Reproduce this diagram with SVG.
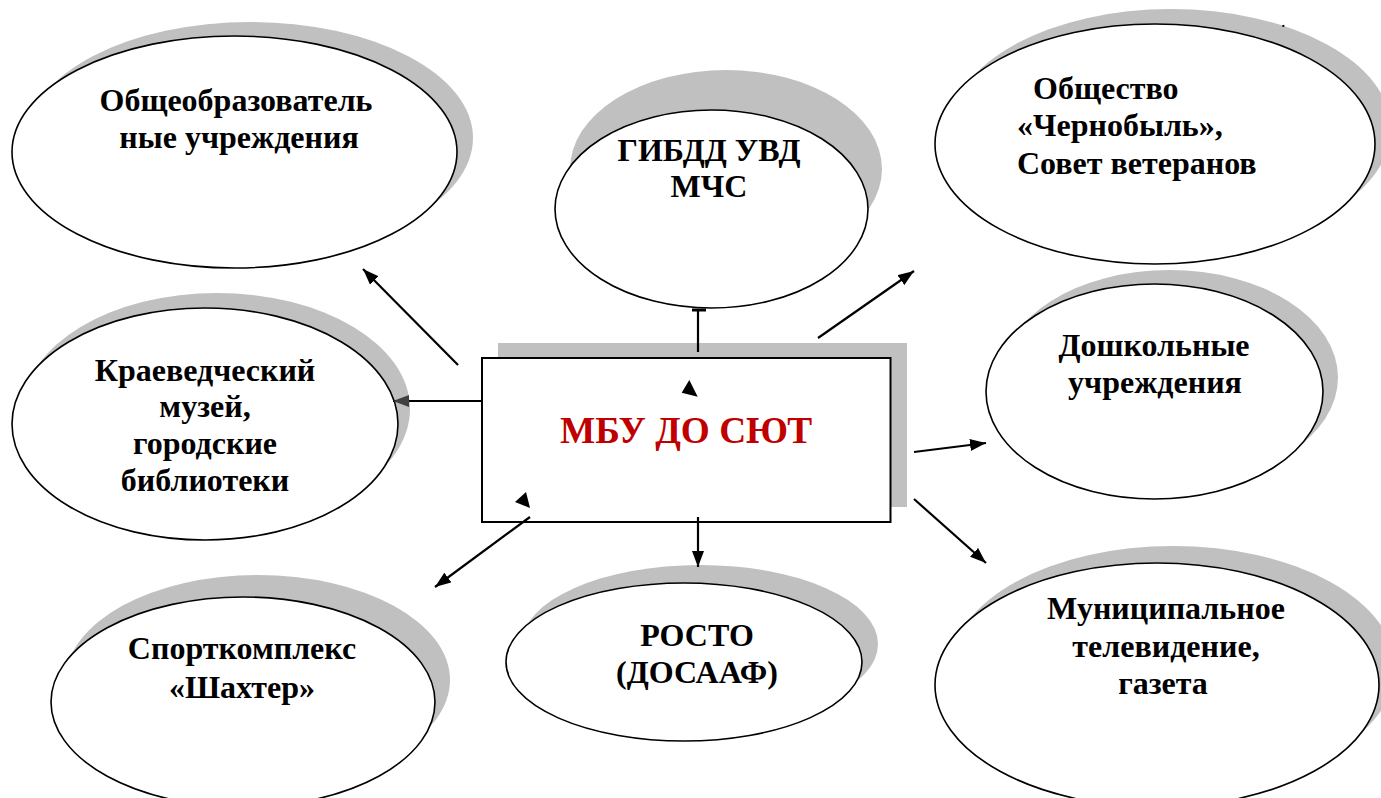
<svg xmlns="http://www.w3.org/2000/svg" width="1381" height="798" viewBox="0 0 1381 798" font-family="Liberation Serif, DejaVu Serif, serif">
<style>
.sh{fill:#c0c0c0;stroke:none}
.el{fill:#fff;stroke:#000;stroke-width:1.6}
.t{font-weight:bold;font-size:32px;fill:#000;text-anchor:middle}
.ts{text-anchor:start}
.red{font-weight:bold;font-size:37.3px;fill:#c00000;text-anchor:middle}
.c{stroke:#000;stroke-width:2.2;fill:none}
</style>
<defs>
<marker id="ah" viewBox="0 0 16 12" refX="16" refY="6" markerWidth="16" markerHeight="12" markerUnits="userSpaceOnUse" orient="auto">
<path d="M0,0 L16,6 L0,12 Z" fill="#000"/>
</marker>
<marker id="ahg" viewBox="0 0 16 12" refX="16" refY="6" markerWidth="16" markerHeight="12" markerUnits="userSpaceOnUse" orient="auto">
<path d="M0,0 L16,6 L0,12 Z" fill="#404040"/>
</marker>
</defs>
<rect width="1381" height="798" fill="#fff"/>

<g id="n-obshcheobr">
<ellipse class="sh" cx="250.5" cy="138" rx="222.5" ry="116"/>
<ellipse class="el" cx="234.5" cy="152" rx="222.5" ry="116"/>
<text class="t" x="236" y="111">Общеобразователь</text>
<text class="t" x="239" y="148">ные учреждения</text>
</g>

<g id="n-gibdd">
<ellipse class="sh" cx="726" cy="169" rx="156" ry="99"/>
<ellipse class="el" cx="711.5" cy="209" rx="156.5" ry="99"/>
<text class="t" x="709" y="161">ГИБДД УВД</text>
<text class="t" x="709" y="197">МЧС</text>
</g>

<g id="n-chernobyl">
<ellipse class="sh" cx="1171" cy="129" rx="220" ry="120"/>
<ellipse class="el" cx="1155" cy="144" rx="220" ry="120"/>
<text class="t ts" x="1033" y="99">Общество</text>
<text class="t ts" x="1017" y="136">«Чернобыль»,</text>
<text class="t ts" x="1017" y="174">Совет ветеранов</text>
</g>

<g id="n-muzey">
<ellipse class="sh" cx="217" cy="409" rx="193" ry="116"/>
<ellipse class="el" cx="205" cy="424" rx="193" ry="116"/>
<text class="t" x="205" y="381">Краеведческий</text>
<text class="t" x="205" y="417">музей,</text>
<text class="t" x="205" y="454">городские</text>
<text class="t" x="205" y="491">библиотеки</text>
</g>

<g id="n-doshk">
<ellipse class="sh" cx="1169.5" cy="377.5" rx="168.5" ry="107.5"/>
<ellipse class="el" cx="1154.5" cy="391.5" rx="168.5" ry="107.5"/>
<text class="t" x="1154" y="356">Дошкольные</text>
<text class="t" x="1155" y="393">учреждения</text>
</g>

<g id="n-sport">
<ellipse class="sh" cx="258" cy="680" rx="192" ry="105"/>
<ellipse class="el" cx="243" cy="702" rx="192" ry="105"/>
<text class="t" x="242" y="659">Спорткомплекс</text>
<text class="t" x="242" y="698">«Шахтер»</text>
</g>

<g id="n-rosto">
<ellipse class="sh" cx="700" cy="644" rx="178" ry="79"/>
<ellipse class="el" cx="684" cy="662" rx="178" ry="79"/>
<text class="t" x="697" y="646">РОСТО</text>
<text class="t" x="697" y="683">(ДОСААФ)</text>
</g>

<g id="n-tv">
<ellipse class="sh" cx="1173" cy="668" rx="222" ry="122"/>
<ellipse class="el" cx="1157" cy="685" rx="222" ry="122"/>
<text class="t" x="1166" y="619">Муниципальное</text>
<text class="t" x="1166" y="657">телевидение,</text>
<text class="t" x="1163" y="694">газета</text>
</g>

<g id="n-center">
<rect x="498" y="343" width="409" height="164" fill="#c0c0c0"/>
<rect x="482" y="358" width="408.5" height="164" fill="#fff" stroke="#000" stroke-width="2"/>
<text class="red" x="686" y="443">МБУ ДО СЮТ</text>
<polygon points="689.3,380 681.7,392.7 697.7,396.7" fill="#000"/>
<polygon points="526,492 515,502 530,508" fill="#000"/>
</g>

<g id="connectors">
<line class="c" x1="458" y1="365" x2="363" y2="269" marker-end="url(#ah)"/>
<line class="c" x1="482" y1="401" x2="393" y2="401" marker-end="url(#ahg)"/>
<line class="c" x1="698" y1="352" x2="698" y2="311"/>
<rect x="692" y="308.5" width="14" height="3" fill="#000"/>
<line class="c" x1="818" y1="338" x2="914" y2="271" marker-end="url(#ah)"/>
<line class="c" x1="914" y1="452" x2="986" y2="443" marker-end="url(#ah)"/>
<line class="c" x1="914" y1="499" x2="986" y2="563" marker-end="url(#ah)"/>
<line class="c" x1="698" y1="517" x2="698" y2="567" marker-end="url(#ah)"/>
<line class="c" x1="530" y1="517" x2="435" y2="587" marker-end="url(#ah)"/>
</g>
<text x="1281" y="27" font-size="18" fill="#000">.</text>
</svg>
